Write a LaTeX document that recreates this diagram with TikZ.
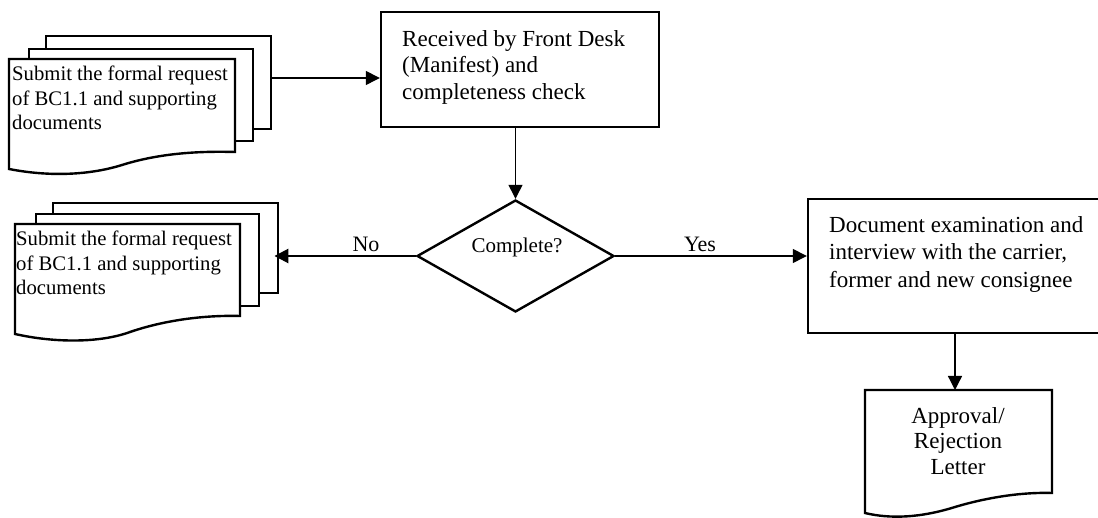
\documentclass[tikz,border=0pt]{standalone}
\usepackage{fontspec}
\setmainfont{Liberation Serif}
\usetikzlibrary{shapes.geometric,arrows.meta}
\tikzset{
  sheet/.style={draw=black,fill=white,line width=2.4pt,inner sep=0pt,anchor=north west},
  boxnode/.style={draw=black,fill=white,line width=2.4pt,inner sep=0pt},
  txt/.style={inner sep=0pt,align=left,anchor=north west},
  conn/.style={line width=1.3pt,-{Triangle[length=14pt,width=14pt]}},
  thickconn/.style={line width=2.6pt,-{Triangle[length=14pt,width=14pt]}},
  docpath/.style={draw=black,fill=white,line width=2.4pt},
}
\begin{document}
\begin{tikzpicture}[x=1pt,y=-1pt]
\useasboundingbox (0,0) rectangle (1098,518);
% stack 1
\node[sheet,minimum width=225pt,minimum height=93pt] (s1b) at (45,35) {};
\node[sheet,minimum width=224pt,minimum height=92pt] (s1m) at (28,48) {};
\path[docpath] (9,59) -- (235,59) -- (235,152) .. controls (200,151) and (160,153) .. (122,165) .. controls (90,175) and (50,177) .. (9,169) -- cycle;
\node[txt,font=\fontsize{20.7}{24.5}\selectfont] (s1) at (12,66) {Submit the formal request\\of BC1.1 and supporting\\documents};
% stack 2
\node[sheet,minimum width=225pt,minimum height=90pt] (s2b) at (52,202) {};
\node[sheet,minimum width=223pt,minimum height=92pt] (s2m) at (35,213) {};
\path[docpath] (15,224) -- (240,224) -- (240,316) .. controls (205,315) and (165,320) .. (130,332) .. controls (100,343) and (55,343) .. (15,334) -- cycle;
\node[txt,font=\fontsize{20.7}{24.5}\selectfont] (s2) at (16,231) {Submit the formal request\\of BC1.1 and supporting\\documents};
% received box
\node[boxnode,minimum width=278pt,minimum height=115pt] (recv) at (520,69.5) {};
\node[txt,font=\fontsize{23}{26.7}\selectfont] (recvt) at (402,30) {Received by Front Desk\\(Manifest) and\\completeness check};
% decision
\node[diamond,draw=black,line width=2.4pt,inner sep=0pt,minimum width=197pt,minimum height=112pt] (dec) at (515.5,256) {};
\node[inner sep=0pt,anchor=base,font=\fontsize{21}{24}\selectfont] (dect) at (517,253) {Complete?};
% exam box
\node[boxnode,minimum width=294pt,minimum height=134pt] (exam) at (955,266) {};
\node[txt,font=\fontsize{23}{27.5}\selectfont] (examt) at (829,216) {Document examination and\\interview with the carrier,\\former and new consignee};
% letter
\path[docpath] (865,390) -- (1052,390) -- (1052,493) .. controls (1020,492) and (985,498) .. (955,507) .. controls (920,518) and (890,519) .. (865,513) -- cycle;
\coordinate (letter) at (955,390);
\node[inner sep=0pt,align=center,anchor=north,font=\fontsize{23}{25.5}\selectfont] (lettert) at (958,407) {Approval/\\Rejection\\Letter};
% connectors
\coordinate (o1) at (270,78);
\draw[conn] (o1) -- (o1 -| recv.west);
\draw[conn] (dec.north |- recv.south) -- (dec.north);
\draw[thickconn,shorten >=-5pt] (dec.west) -- (dec.west -| s2b.east);
\draw[conn] (dec.east) -- (dec.east -| exam.west);
\draw[conn] (exam.south) -- (letter);
% labels
\node[inner sep=0pt,anchor=base,font=\fontsize{22}{24}\selectfont] (no) at (366,252) {No};
\node[inner sep=0pt,anchor=base,font=\fontsize{22}{24}\selectfont] (yes) at (700,252) {Yes};
\end{tikzpicture}
\end{document}
